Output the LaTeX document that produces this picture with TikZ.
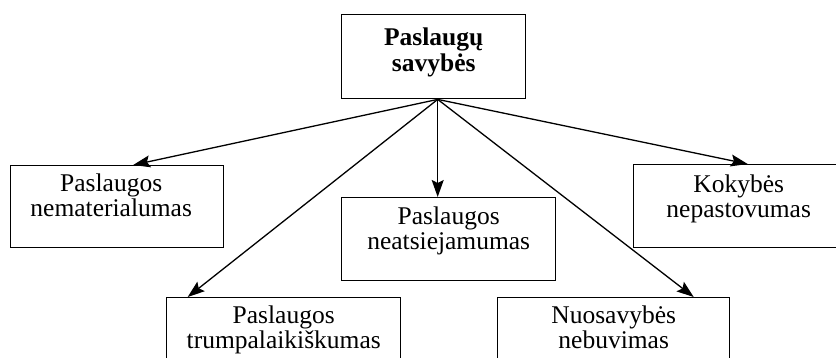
\documentclass[tikz,border=0pt]{standalone}
\usepackage{fontspec}
\setmainfont{Liberation Serif}
\usetikzlibrary{arrows.meta}
\begin{document}
\begin{tikzpicture}[x=1pt,y=-1pt,
  box/.style={draw,line width=1.4pt,anchor=north west,inner sep=0pt},
  label/.style={anchor=north,inner sep=0pt,align=center,font=\fontsize{25.5}{25.5}\selectfont},
  conn/.style={line width=1.3pt,-{Stealth[length=17pt,width=12pt,inset=3pt]}}]
\useasboundingbox (0,0) rectangle (836,358);

% root box
\node[box,minimum width=184pt,minimum height=84pt] (top) at (341,14) {};
\node[label,font=\fontsize{25.5}{26}\selectfont\bfseries] (toptxt) at ([yshift=-13.5pt]top.north) {Paslaugų\\savybės};
\coordinate (hub) at ([xshift=4pt]top.south);

% upper row
\node[box,minimum width=213pt,minimum height=82pt] (nem) at (10,165) {};
\node[label,xshift=-6pt] (nemtxt) at ([yshift=-8.6pt]nem.north) {Paslaugos\\nematerialumas};

\node[box,minimum width=214pt,minimum height=83pt] (neat) at (341,197) {};
\node[label] (neattxt) at ([yshift=-9.6pt]neat.north) {Paslaugos\\neatsiejamumas};

\node[box,minimum width=210pt,minimum height=83pt] (kok) at (633,164) {};
\node[label] (koktxt) at ([yshift=-10.6pt]kok.north) {Kokybės\\nepastovumas};

% lower row
\node[box,minimum width=234pt,minimum height=80pt] (trum) at (166,297) {};
\node[label] (trumtxt) at ([yshift=-8.6pt]trum.north) {Paslaugos\\trumpalaikiškumas};

\node[box,minimum width=232pt,minimum height=80pt] (nuo) at (497,297) {};
\node[label] (nuotxt) at ([yshift=-8.6pt]nuo.north) {Nuosavybės\\nebuvimas};

% connectors
\draw[conn] (hub) -- ([xshift=16pt]nem.north);
\draw[conn] (hub) -- ([xshift=-96pt]trum.north);
\draw[conn] (hub) -- ([xshift=-11pt]neat.north);
\draw[conn] (hub) -- ([xshift=80pt]nuo.north);
\draw[conn] (hub) -- ([xshift=9pt]kok.north);
\end{tikzpicture}
\end{document}
